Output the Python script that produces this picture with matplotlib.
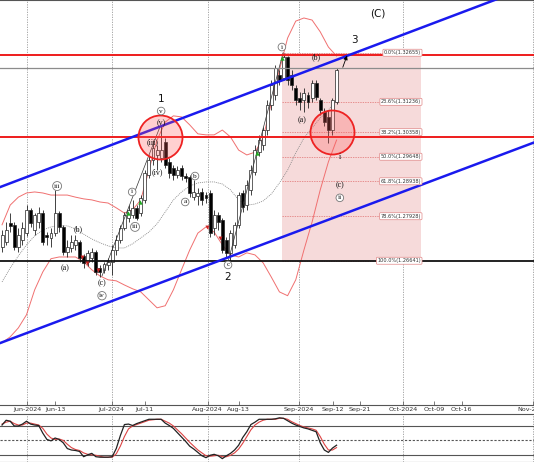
import matplotlib
matplotlib.use('Agg')
import matplotlib.pyplot as plt
import numpy as np

# ---------------- data ----------------
opens = [1.2704,1.2718,1.2773,1.2768,1.2704,1.2724,1.2744,1.2811,1.2753,1.2776,
         1.2802,1.2739,1.2730,1.2744,1.2802,1.2762,1.2689,1.2701,1.2710,1.2718,
         1.2678,1.2661,1.2672,1.2689,1.2643,1.2638,1.2652,1.2661,1.2695,1.2724,
         1.2759,1.2788,1.2796,1.2817,1.2802,1.2840,1.2912,1.2955,1.2970,1.2961,
         1.3007,1.2950,1.2932,1.2912,1.2932,1.2909,1.2906,1.2848,1.2851,1.2863,
         1.2854,1.2860,1.2759,1.2796,1.2782,1.2724,1.2687,1.2710,1.2768,1.2860,
         1.2825,1.2869,1.2921,1.2978,1.2999,1.3042,1.3114,1.3143,1.3201,1.3192,
         1.3253,1.3201,1.3163,1.3135,1.3129,1.3143,1.3135,1.3178,1.3129,1.3094,
         1.3080,1.3042,1.3123]
closes = [1.2739,1.2753,1.2765,1.2704,1.2739,1.2759,1.2811,1.2773,1.2796,1.2802,
          1.2718,1.2733,1.2744,1.2802,1.2762,1.2689,1.2704,1.2718,1.2724,1.2672,
          1.2658,1.2687,1.2689,1.2632,1.2632,1.2655,1.2661,1.2695,1.2724,1.2759,
          1.2796,1.2811,1.2817,1.2788,1.2845,1.2918,1.2955,1.2990,1.2984,1.2984,
          1.2941,1.2918,1.2912,1.2926,1.2909,1.2903,1.2860,1.2863,1.2860,1.2840,
          1.2845,1.2744,1.2796,1.2776,1.2695,1.2687,1.2744,1.2768,1.2854,1.2820,
          1.2883,1.2926,1.2984,1.3013,1.3042,1.3114,1.3172,1.3221,1.3187,1.3253,
          1.3187,1.3172,1.3129,1.3123,1.3149,1.3123,1.3178,1.3138,1.3100,1.3065,
          1.3042,1.3129,1.3216]
highs = [1.2753,1.2776,1.2802,1.2776,1.2759,1.2776,1.2825,1.2817,1.2802,1.2820,
         1.2811,1.2747,1.2759,1.2869,1.2808,1.2768,1.2724,1.2739,1.2739,1.2724,
         1.2684,1.2695,1.2701,1.2695,1.2652,1.2661,1.2672,1.2710,1.2739,1.2768,
         1.2805,1.2825,1.2840,1.2825,1.2854,1.2926,1.2970,1.3013,1.2999,1.3057,
         1.3019,1.2961,1.2941,1.2938,1.2941,1.2918,1.2912,1.2898,1.2874,1.2874,
         1.2863,1.2869,1.2811,1.2805,1.2788,1.2733,1.2753,1.2776,1.2863,1.2869,
         1.2898,1.2941,1.2999,1.3028,1.3051,1.3129,1.3187,1.3230,1.3216,1.32655,
         1.3256,1.3216,1.3172,1.3152,1.3163,1.3152,1.3187,1.3187,1.3135,1.3106,
         1.3100,1.3135,1.3221]
lows = [1.2689,1.2710,1.2747,1.2695,1.2689,1.2710,1.2736,1.2762,1.2739,1.2759,
        1.2710,1.2710,1.2704,1.2736,1.2747,1.2681,1.2675,1.2689,1.2695,1.2661,
        1.2643,1.2649,1.2661,1.2623,1.2617,1.2629,1.2638,1.2623,1.2681,1.2716,
        1.2753,1.2776,1.2788,1.2782,1.2793,1.2831,1.2903,1.2941,1.2926,1.2950,
        1.2932,1.2903,1.2898,1.2903,1.2898,1.2892,1.2848,1.2840,1.2825,1.2825,
        1.2831,1.2733,1.2739,1.2753,1.2687,1.2675,1.2664,1.2701,1.2759,1.2805,
        1.2811,1.2854,1.2912,1.2967,1.2984,1.3028,1.3100,1.3129,1.3172,1.3187,
        1.3172,1.3158,1.3114,1.3100,1.3094,1.3106,1.3123,1.3129,1.3086,1.3054,
        1.3005,1.3028,1.3117]

# Bollinger bands, read every second bar
band_bars = list(range(0, 83, 2))
bb_upper = [1.2768,1.2825,1.2848,1.2860,1.2863,1.2860,1.2854,1.2854,1.2854,1.2848,
            1.2843,1.2840,1.2834,1.2831,1.2817,1.2802,1.2811,1.2840,1.2926,1.3013,
            1.3065,1.3083,1.3080,1.3057,1.3031,1.3028,1.3028,1.3042,1.3022,1.2984,
            1.2970,1.2978,1.3019,1.3120,1.3216,1.3308,1.3357,1.3366,1.3360,1.3326,
            1.3282,1.3256]
bb_lower = [1.2427,1.2444,1.2470,1.2508,1.2580,1.2632,1.2670,1.2675,1.2675,1.2675,
            1.2661,1.2638,1.2620,1.2609,1.2606,1.2594,1.2583,1.2574,1.2551,1.2528,
            1.2534,1.2580,1.2638,1.2695,1.2744,1.2762,1.2747,1.2710,1.2681,1.2675,
            1.2687,1.2681,1.2658,1.2617,1.2574,1.2563,1.2609,1.2695,1.2776,1.2869,
            1.2950,1.3013]
bb_mid = [1.2603,1.2643,1.2678,1.2710,1.2736,1.2753,1.2762,1.2765,1.2765,1.2756,
          1.2741,1.2727,1.2716,1.2707,1.2701,1.2701,1.2713,1.2730,1.2747,1.2771,
          1.2805,1.2840,1.2863,1.2880,1.2889,1.2892,1.2892,1.2886,1.2869,1.2840,
          1.2825,1.2828,1.2837,1.2857,1.2889,1.2926,1.2976,1.3019,1.3048,1.3077,
          1.3100,1.3129]

# Stochastic oscillator
stoch_k = [82,92,90,80,80,84,90,84,82,81,65,52,49,55,52,45,33,30,29,27,
           16,20,23,16,15,15,15,16,33,60,83,84,81,85,88,91,94,94,94,94,
           86,81,75,66,57,48,38,32,25,18,14,19,21,18,12,18,23,30,40,56,
           68,83,88,94,94,94,94,95,97,96,91,86,82,79,76,74,71,68,45,30,
           25,34,40]
stoch_d = [84,88,90,85,82,82,86,86,84,82,75,63,55,52,53,50,42,35,31,29,
           24,21,20,19,17,15,15,15,22,38,58,74,80,83,86,89,92,93,94,94,
           90,86,80,72,64,55,46,38,30,24,18,17,18,19,16,16,19,24,32,44,
           58,72,82,88,92,94,94,94,96,96,94,89,85,81,78,76,74,71,58,42,
           30,30,35]

# Date axis
tick_pos = [6.2, 13.1, 26.9, 35.0, 50.4, 58.0, 72.8, 81.1, 87.7, 98.3, 106.0, 112.7, 130.1]
tick_labels = ['Jun-2024', 'Jun-13', 'Jul-2024', 'Jul-11', 'Aug-2024', 'Aug-13', 'Sep-2024',
               'Sep-12', 'Sep-21', 'Oct-2024', 'Oct-09', 'Oct-16', 'Nov-2024']
month_pos = [6.2, 26.9, 50.4, 72.8, 98.3, 130.1]

# Horizontal levels
red_levels = [1.3259, 1.3022]
grey_level = 1.3220
black_level = 1.26641

# Channel lines (bar, price) anchors
channel_upper = [(-0.5, 1.2877), (130.4, 1.3461)]
channel_lower = [(-0.5, 1.2426), (130.4, 1.3006)]

# Fibonacci retracement
fib_start, fib_end = 68.6, 102.7
fib_ratios = ['0.0%', '23.6%', '38.2%', '50.0%', '61.8%', '78.6%', '100.0%']
fib_prices = [1.32655, 1.31236, 1.30358, 1.29648, 1.28938, 1.27928, 1.26641]

# Red circles
circle_x = [38.6, 80.9]
circle_y = [1.3023, 1.3037]

# Wave labels
big_labels = [('(C)', 92.2, 1.3380), ('3', 86.5, 1.3302), ('1', 39.0, 1.3132), ('2', 55.4, 1.2617)]
plain_labels = [('(v)', 39.0, 1.3062), ('(iii)', 36.8, 1.3007), ('(iv)', 38.0, 1.2921),
                ('(b)', 18.6, 1.2756), ('(a)', 15.4, 1.2643), ('(c)', 24.5, 1.2600),
                ('(b)', 77.0, 1.3253), ('(a)', 73.5, 1.3071), ('i', 82.8, 1.2964),
                ('(c)', 82.8, 1.2883)]
circ_labels = [('v', 39.0, 1.3097), ('iii', 13.5, 1.2880), ('i', 31.9, 1.2863),
               ('iii', 32.6, 1.2762), ('iv', 24.5, 1.2563), ('b', 47.3, 1.2909),
               ('a', 44.9, 1.2834), ('c', 55.4, 1.2652), ('i', 68.6, 1.3282),
               ('ii', 82.8, 1.2846)]

green_x = [30.9, 33.8, 62.5, 68.6]
green_y = [1.2802, 1.2834, 1.2976, 1.3250]
redm_x = [19.6, 20.8, 23.5, 50.2, 53.4]
redm_y = [1.2675, 1.2658, 1.2638, 1.2762, 1.2730]

wave_lines = [((24.5, 1.2620), (38.7, 1.3051)), ((55.4, 1.2661), (68.9, 1.32655))]
arrow_from = (83.3, 1.3216)
arrow_to = (84.8, 1.3265)

# ---------------- figure ----------------
W, H = 534, 462
fig = plt.figure(figsize=(W / 100, H / 100), dpi=100)
ax = fig.add_axes([0, 57 / H, 1, 405 / H])
ax2 = fig.add_axes([0, 0, 1, 48 / H])

XL = (-0.5, 130.4)
ax.set_xlim(*XL)
ax.set_ylim(1.2247, 1.3418)
ax2.set_xlim(*XL)
ax2.set_ylim(5, 105)

for a in (ax, ax2):
    for s in ('left', 'right'):
        a.spines[s].set_visible(False)
    for s in ('top', 'bottom'):
        a.spines[s].set_color('#555555')
        a.spines[s].set_linewidth(0.8)
    a.set_yticks([])
    for m in month_pos:
        a.axvline(m, color='#9a9a9a', lw=0.6, ls=(0, (1.5, 1.5)), zorder=0.5)

ax.set_xticks(tick_pos)
ax.set_xticklabels(tick_labels, fontsize=4.6, color='#333333')
ax.tick_params(axis='x', direction='in', length=3, pad=1.2, color='#666666', width=0.6)
ax2.set_xticks([])

# Fibonacci box
ax.fill_between([fib_start, fib_end], fib_prices[-1], fib_prices[0],
                color='#f6dada', zorder=0.8, lw=0)
for r, p in zip(fib_ratios, fib_prices):
    ax.plot([fib_start, fib_end - 9], [p, p], color='#e07070', lw=0.5,
            ls=(0, (2, 1.5)), zorder=0.9)
    ax.text(fib_end, p, f'{r}({p:.5f})', fontsize=3.6, ha='right', va='center',
            color='#333333', zorder=7,
            bbox=dict(boxstyle='round,pad=0.2', fc='white', ec='#e08888', lw=0.5))

# Bollinger bands
ax.plot(band_bars, bb_upper, color='#f07070', lw=0.7, zorder=2)
ax.plot(band_bars, bb_lower, color='#f07070', lw=0.7, zorder=2)
ax.plot(band_bars, bb_mid, color='#888888', lw=0.6, ls=(0, (1.2, 1.2)), zorder=2)

# Horizontal levels
for lv in red_levels:
    ax.axhline(lv, color='#ee1c1c', lw=1.4, zorder=4)
ax.axhline(grey_level, color='#8c8c8c', lw=0.9, zorder=4)
ax.axhline(black_level, color='#111111', lw=1.3, zorder=4)

# Candles
x = np.arange(len(opens))
o = np.array(opens); c = np.array(closes)
ax.vlines(x, lows, highs, color='#222222', lw=0.6, zorder=3)
bottoms = np.minimum(o, c)
heights = np.maximum(np.abs(c - o), 0.00012)
cols = ['white' if cc >= oo else 'black' for oo, cc in zip(o, c)]
ax.bar(x, heights, bottom=bottoms, width=0.72, color=cols, edgecolor='#222222',
       linewidth=0.5, zorder=3.2)

# Wave lines and arrow
for (p0, p1) in wave_lines:
    ax.plot([p0[0], p1[0]], [p0[1], p1[1]], color='#333333', lw=0.5, zorder=3.5)
ax.annotate('', xy=arrow_to, xytext=arrow_from,
            arrowprops=dict(arrowstyle='-|>', color='black', lw=0.6, mutation_scale=6),
            zorder=6)

# Markers
ax.scatter(green_x, green_y, marker='^', s=10, color='#22aa22', zorder=5, lw=0)
ax.scatter(redm_x, redm_y, marker='v', s=8, color='#cc2222', zorder=5, lw=0)

# Channel lines
for ln in (channel_upper, channel_lower):
    ax.plot([ln[0][0], ln[1][0]], [ln[0][1], ln[1][1]], color='#1a1aee', lw=1.8, zorder=5)

# Red circles
ax.scatter(circle_x, circle_y, s=1005, facecolor=(1.0, 0.35, 0.35, 0.28),
           edgecolor='#ee2222', linewidth=1.3, zorder=5.5)

# Labels
for t, bx, py in big_labels:
    ax.text(bx, py, t, fontsize=7.5, ha='center', va='center', color='#111111', zorder=8)
for t, bx, py in plain_labels:
    ax.text(bx, py, t, fontsize=5.8, ha='center', va='center', color='#111111',
            family='Liberation Serif', zorder=8)
for t, bx, py in circ_labels:
    ax.text(bx, py, t, fontsize=5.2, ha='center', va='center', color='#111111',
            family='Liberation Serif', zorder=8,
            bbox=dict(boxstyle='circle,pad=0.18', fc='white', ec='#777777', lw=0.6))

# Oscillator
ax2.axhline(80, color='#555555', lw=0.8)
ax2.axhline(20, color='#555555', lw=0.8)
ax2.axhline(50, color='#555555', lw=0.8, ls=(0, (2, 1.5)))
ax2.plot(x, stoch_d, color='#dd4444', lw=0.8, zorder=3)
ax2.plot(x, stoch_k, color='#222222', lw=0.9, zorder=4)

fig.savefig('out.png', dpi=100)
